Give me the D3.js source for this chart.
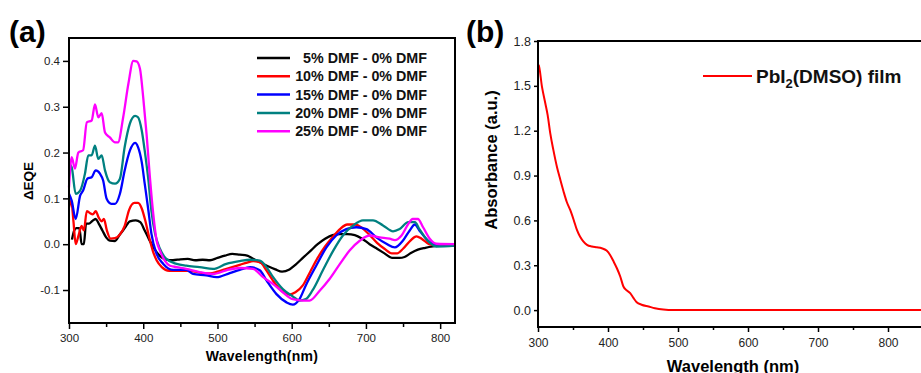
<!DOCTYPE html>
<html>
<head>
<meta charset="utf-8">
<script src="https://cdn.jsdelivr.net/npm/d3@7"></script>
<style>
  body { margin: 0; background: #fff; }
  svg { display: block; font-family: "Liberation Sans", Arial, sans-serif; }
  .tick text { fill: #222; }
</style>
</head>
<body>
<svg width="921" height="373"></svg>
<script>
// ---- panel (a) data: [wavelength nm, dEQE] ----
var seriesNames = ["5% DMF - 0% DMF", "10% DMF - 0% DMF", "15% DMF - 0% DMF", "20% DMF - 0% DMF", "25% DMF - 0% DMF"];
var seriesColors = ["#000000", "#ff0000", "#0000ff", "#008080", "#ff00ff"];

var dmf5 = [[304,0.01],[307,0.03],[310,0.035],[314,0.035],[317,0.0],[320,0.0],[323,0.045],[327,0.045],[331,0.05],[336,0.055],[340,0.045],[345,0.03],[350,0.015],[355,0.008],[362,0.007],[368,0.02],[375,0.035],[382,0.05],[390,0.052],[396,0.048],[402,0.03],[408,0.01],[415,-0.01],[422,-0.025],[430,-0.033],[440,-0.035],[450,-0.033],[460,-0.032],[470,-0.035],[480,-0.034],[490,-0.035],[500,-0.03],[510,-0.025],[520,-0.021],[530,-0.023],[540,-0.025],[548,-0.032],[558,-0.04],[568,-0.048],[578,-0.055],[587,-0.06],[597,-0.055],[605,-0.045],[615,-0.03],[625,-0.015],[635,0.0],[645,0.012],[655,0.02],[665,0.022],[675,0.022],[685,0.02],[695,0.012],[705,0.0],[715,-0.01],[725,-0.02],[735,-0.03],[745,-0.03],[752,-0.028],[760,-0.02],[770,-0.012],[780,-0.008],[790,-0.005],[800,-0.003],[820,-0.002]];
var dmf10 = [[300,0.08],[303,0.095],[306,0.05],[309,0.0],[313,0.02],[317,0.04],[320,0.03],[324,0.072],[328,0.068],[332,0.065],[336,0.072],[340,0.058],[344,0.05],[347,0.055],[351,0.03],[356,0.012],[362,0.013],[368,0.02],[375,0.04],[381,0.075],[388,0.09],[393,0.09],[398,0.078],[403,0.05],[408,0.015],[413,-0.015],[418,-0.035],[425,-0.05],[435,-0.058],[450,-0.058],[460,-0.058],[470,-0.06],[480,-0.063],[490,-0.064],[500,-0.06],[510,-0.055],[520,-0.05],[530,-0.045],[540,-0.04],[548,-0.037],[558,-0.04],[565,-0.055],[575,-0.08],[585,-0.1],[597,-0.11],[605,-0.105],[615,-0.09],[625,-0.06],[635,-0.03],[645,-0.005],[655,0.015],[665,0.033],[675,0.043],[685,0.043],[695,0.035],[705,0.02],[715,0.003],[725,-0.01],[735,-0.02],[742,-0.02],[750,-0.01],[760,0.008],[768,0.017],[775,0.012],[785,0.0],[795,-0.003],[820,-0.003]];
var dmf15 = [[300,0.11],[303.6,0.095],[309,0.055],[315,0.106],[319,0.117],[324.7,0.143],[330.5,0.146],[336,0.161],[341.7,0.154],[346,0.139],[350.7,0.099],[357,0.088],[362,0.088],[368.6,0.11],[375,0.161],[382,0.204],[389,0.221],[393,0.212],[398,0.179],[402,0.132],[407,0.073],[411,0.023],[418,-0.021],[427,-0.043],[440.5,-0.056],[458,-0.056],[467,-0.065],[485,-0.068],[498.7,-0.072],[516.6,-0.063],[530,-0.056],[544,-0.05],[557,-0.057],[566,-0.079],[579.5,-0.109],[593,-0.127],[601.5,-0.132],[610.5,-0.12],[619,-0.09],[633,-0.047],[646.8,-0.007],[660,0.019],[673.6,0.033],[687,0.037],[700.6,0.033],[714,0.015],[727.6,0.001],[739,-0.007],[750,0.008],[759,0.03],[766,0.043],[772,0.03],[783.6,0.008],[795,-0.001],[820,0.0]];
var dmf20 = [[300,0.175],[303.6,0.168],[309,0.11],[315,0.117],[321.5,0.154],[326,0.194],[330.5,0.194],[335,0.215],[339.5,0.186],[344,0.194],[348.5,0.161],[355,0.135],[362,0.132],[368.6,0.143],[375,0.212],[382,0.263],[389,0.28],[393,0.277],[398,0.248],[402,0.204],[407,0.139],[411,0.073],[416,0.023],[422.5,-0.01],[431,-0.032],[445,-0.043],[458,-0.047],[476,-0.05],[494,-0.054],[512,-0.043],[530,-0.037],[544,-0.034],[557,-0.036],[566,-0.05],[575,-0.072],[588,-0.098],[601.5,-0.114],[610.5,-0.123],[619,-0.12],[628,-0.101],[642,-0.057],[656,-0.014],[669,0.019],[683,0.041],[696,0.052],[709.5,0.052],[723,0.041],[736.5,0.028],[745.5,0.033],[757,0.048],[766,0.048],[772,0.033],[783.6,0.007],[795,-0.005],[820,-0.003]];
var dmf25 = [[300,0.124],[303.6,0.19],[308,0.165],[312.6,0.2],[319,0.205],[324,0.266],[330.5,0.27],[335,0.305],[339.5,0.277],[344,0.286],[348.5,0.244],[355,0.233],[362,0.222],[366,0.222],[373,0.277],[380,0.35],[386.6,0.4],[391,0.399],[395.6,0.383],[400,0.32],[404.5,0.24],[409,0.146],[413.5,0.066],[418,0.008],[422.5,-0.014],[429,-0.036],[436,-0.047],[445,-0.05],[458,-0.054],[476,-0.061],[494,-0.065],[512,-0.057],[530,-0.052],[548,-0.054],[561.5,-0.072],[575,-0.087],[588,-0.105],[601.5,-0.12],[615,-0.123],[624,-0.123],[638,-0.101],[651,-0.076],[665,-0.043],[678,-0.014],[692,0.008],[705,0.019],[718.6,0.015],[732,0.012],[739,0.009],[748,0.019],[757,0.044],[763,0.055],[770,0.055],[777,0.037],[786,0.012],[795,0.001],[820,0.0]];
var seriesA = [dmf5, dmf10, dmf15, dmf20, dmf25];

var ticksA_y = [-0.1, 0.0, 0.1, 0.2, 0.3, 0.4];
var ticksA_x = [300, 350, 400, 450, 500, 550, 600, 650, 700, 750, 800];

// ---- panel (b) data: [wavelength nm, absorbance] ----
var pbi2 = [[300,1.64],[301,1.638],[305.7,1.493],[310.5,1.382],[313.8,1.304],[317.6,1.18],[322,1.07],[327,0.959],[332,0.87],[336.6,0.792],[341,0.725],[346,0.67],[351,0.603],[355.6,0.536],[360,0.492],[365,0.458],[370,0.436],[377,0.425],[384,0.42],[391,0.414],[398,0.398],[403,0.369],[408,0.325],[412.7,0.28],[417.5,0.225],[422,0.158],[427,0.131],[431.7,0.113],[436.5,0.08],[441,0.053],[448,0.036],[458,0.024],[467,0.013],[479,0.004],[493.5,0.0],[600,0.0],[700,0.0],[800,0.0],[900,0.0]];
var ticksB_y = [0.0, 0.3, 0.6, 0.9, 1.2, 1.5, 1.8];
var ticksB_x = [300, 350, 400, 450, 500, 550, 600, 650, 700, 750, 800, 850];

var svg = d3.select("svg");

// ================= panel (a) =================
var ax = { left: 69, top: 38, right: 455, bottom: 323 };
var xA = d3.scaleLinear().domain([300, 820]).range([ax.left, ax.right]);
var yA = d3.scaleLinear().domain([-0.172, 0.45]).range([ax.bottom, ax.top]);

var gA = svg.append("g");

gA.append("g")
    .attr("transform", "translate(0," + ax.bottom + ")")
    .call(d3.axisBottom(xA).tickValues(ticksA_x).tickSize(6).tickPadding(5)
        .tickFormat(function (d) { return d % 100 === 0 ? d : ""; }))
    .call(styleAxis, 11.5);

gA.append("g")
    .attr("transform", "translate(" + ax.left + ",0)")
    .call(d3.axisLeft(yA).tickValues(ticksA_y).tickSize(6).tickPadding(3)
        .tickFormat(function (d) { return d.toFixed(1); }))
    .call(styleAxis, 11.5);

gA.selectAll(".tick line").filter(function (d) { return d % 100 === 50; }).attr("y2", 4);

var lineA = d3.line()
    .x(function (d) { return xA(d[0]); })
    .y(function (d) { return yA(d[1]); })
    .curve(d3.curveMonotoneX);

gA.selectAll(".curve")
    .data(seriesA)
    .enter().append("path")
    .attr("class", "curve")
    .attr("d", lineA)
    .attr("fill", "none")
    .attr("stroke", function (d, i) { return seriesColors[i]; })
    .attr("stroke-width", 2.3)
    .attr("stroke-linejoin", "round");

gA.append("rect")
    .attr("x", ax.left).attr("y", ax.top)
    .attr("width", ax.right - ax.left).attr("height", ax.bottom - ax.top)
    .attr("fill", "none").attr("stroke", "#000").attr("stroke-width", 2);

// legend (a)
var legA = gA.selectAll(".leg")
    .data(seriesNames)
    .enter().append("g")
    .attr("transform", function (d, i) { return "translate(0," + (58 + i * 18.3) + ")"; });
legA.append("line")
    .attr("x1", 257).attr("x2", 290)
    .attr("stroke", function (d, i) { return seriesColors[i]; })
    .attr("stroke-width", 2.5);
legA.append("text")
    .attr("x", 427).attr("y", 5)
    .attr("text-anchor", "end")
    .attr("font-size", "14.3px")
    .attr("font-weight", "bold")
    .attr("fill", "#111")
    .text(function (d) { return d; });

gA.append("text")
    .attr("transform", "translate(33,181) rotate(-90)")
    .attr("text-anchor", "middle")
    .attr("font-size", "13.5px").attr("font-weight", "bold")
    .text("ΔEQE");

gA.append("text")
    .attr("x", 262).attr("y", 361)
    .attr("text-anchor", "middle")
    .attr("font-size", "14px").attr("font-weight", "bold")
    .attr("letter-spacing", "0.3px")
    .text("Wavelength(nm)");

gA.append("text")
    .attr("x", 9).attr("y", 42)
    .attr("font-size", "30px").attr("font-weight", "bold")
    .text("(a)");

// ================= panel (b) =================
var bx = { left: 538, top: 41, right: 944, bottom: 327 };
var xB = d3.scaleLinear().domain([300, 880]).range([bx.left, bx.right]);
var yB = d3.scaleLinear().domain([-0.113, 1.8]).range([bx.bottom, bx.top]);

var gB = svg.append("g");

gB.append("g")
    .attr("class", "xb")
    .attr("transform", "translate(0," + bx.bottom + ")")
    .call(d3.axisBottom(xB).tickValues(ticksB_x).tickSize(5).tickPadding(6)
        .tickFormat(function (d) { return d % 100 === 0 ? d : ""; }))
    .call(styleAxis, 12);

gB.append("g")
    .attr("transform", "translate(" + bx.left + ",0)")
    .call(d3.axisLeft(yB).tickValues(ticksB_y).tickSize(4).tickPadding(3)
        .tickFormat(function (d) { return d.toFixed(1); }))
    .call(styleAxis, 12.5);

gB.selectAll(".xb .tick line").filter(function (d) { return d % 100 === 50; }).attr("y2", 3);

var lineB = d3.line()
    .x(function (d) { return xB(d[0]); })
    .y(function (d) { return yB(d[1]); })
    .curve(d3.curveMonotoneX);

gB.append("path")
    .datum(pbi2)
    .attr("d", lineB)
    .attr("fill", "none")
    .attr("stroke", "#ff0000")
    .attr("stroke-width", 2);

gB.append("rect")
    .attr("x", bx.left).attr("y", bx.top)
    .attr("width", bx.right - bx.left).attr("height", bx.bottom - bx.top)
    .attr("fill", "none").attr("stroke", "#000").attr("stroke-width", 2);

// legend (b)
gB.append("line")
    .attr("x1", 703).attr("x2", 752).attr("y1", 76).attr("y2", 76)
    .attr("stroke", "#ff0000").attr("stroke-width", 2);
var legB = gB.append("text")
    .attr("x", 756).attr("y", 83)
    .attr("font-size", "19px").attr("font-weight", "bold")
    .attr("fill", "#111");
legB.append("tspan").text("PbI");
legB.append("tspan").attr("font-size", "13px").attr("dy", 5).text("2");
legB.append("tspan").attr("dy", -5).text("(DMSO) film");

gB.append("text")
    .attr("transform", "translate(497,160) rotate(-90)")
    .attr("text-anchor", "middle")
    .attr("font-size", "16.5px").attr("font-weight", "bold")
    .text("Absorbance (a.u.)");

gB.append("text")
    .attr("x", 733).attr("y", 372)
    .attr("text-anchor", "middle")
    .attr("font-size", "16.5px").attr("font-weight", "bold")
    .text("Wavelength (nm)");

gB.append("text")
    .attr("x", 466).attr("y", 42)
    .attr("font-size", "30px").attr("font-weight", "bold")
    .text("(b)");

function styleAxis(sel, size) {
    sel.select(".domain").remove();
    sel.selectAll(".tick line").attr("stroke", "#000").attr("stroke-width", 1.5);
    sel.selectAll(".tick text")
        .attr("font-size", size + "px")
        .attr("font-family", "\"Liberation Sans\", Arial, sans-serif");
}
</script>
</body>
</html>
